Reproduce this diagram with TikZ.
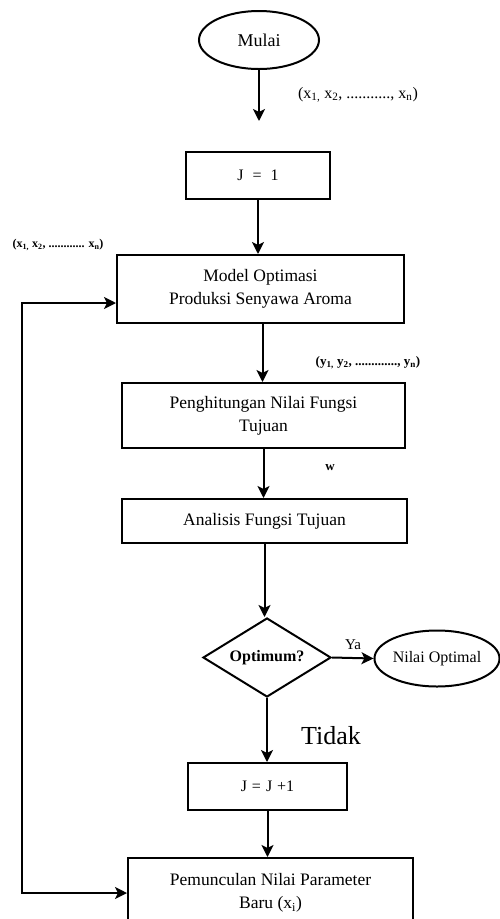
\documentclass[tikz,border=0pt]{standalone}
\usepackage{fontspec}
\setmainfont{Liberation Serif}
\usetikzlibrary{shapes.geometric,arrows.meta}
\begin{document}
\begin{tikzpicture}[x=1pt,y=-1pt,
  line width=2pt,
  arr/.style={-{Stealth[length=12pt,width=12pt,inset=3pt]}},
  dblarr/.style={{Stealth[length=12pt,width=12pt,inset=3pt]}-{Stealth[length=12pt,width=12pt,inset=3pt]}},
  procbox/.style={draw,rectangle,inner sep=0pt,align=center,font=\fontsize{17.5}{23}\selectfont},
  termin/.style={draw,ellipse,inner sep=0pt,align=center,font=\fontsize{18}{20}\selectfont},
  decis/.style={draw,diamond,aspect=1.6,inner sep=0pt,align=center,font=\bfseries\fontsize{16}{18}\selectfont},
  lbl/.style={inner sep=0pt,font=\fontsize{12}{14}\selectfont}]
\useasboundingbox (0,0) rectangle (499,919);
\fill[white] (0,0) rectangle (499,919);

\node[termin,minimum width=120pt,minimum height=58pt] (mulai) at (259,40) {Mulai};
\coordinate (tipa) at (259,121);
\node[procbox,minimum width=144pt,minimum height=47pt,font=\fontsize{16}{18}\selectfont] (j1) at (258,175.5) {J\hspace{9pt}=\hspace{9pt}1};
\node[procbox,minimum width=287pt,minimum height=68pt] (model) at (260.5,289) {Model Optimasi\\Produksi Senyawa Aroma};
\node[procbox,minimum width=283pt,minimum height=65pt] (hitung) at (263.5,415.5) {Penghitungan Nilai Fungsi\\Tujuan};
\node[procbox,minimum width=285pt,minimum height=44pt] (anal) at (264.5,521) {Analisis Fungsi Tujuan};
\node[decis,minimum width=128pt,minimum height=79pt] (dec) at (267,657.5) {Optimum?};
\node[termin,minimum width=114pt,minimum height=56pt,font=\fontsize{16}{18}\selectfont] (nilai) at (437,658.5) {Nilai Optimal};
\node[procbox,minimum width=159pt,minimum height=47pt,font=\fontsize{16}{18}\selectfont] (jj1) at (267.5,786.5) {J\hspace{5pt}=\hspace{5pt}J\hspace{5pt}+1};
\node[procbox,minimum width=285pt,minimum height=70pt] (baru) at (270.5,893) {Pemunculan Nilai Parameter\\Baru (x\textsubscript{i})};

\node[lbl,font=\fontsize{16}{19}\selectfont] (lx) at (358,95) {(x\textsubscript{1,} x\textsubscript{2}, ..........., x\textsubscript{n})};
\node[lbl,font=\bfseries\fontsize{12}{14}\selectfont] (lxl) at (58,245) {(x\textsubscript{1,} x\textsubscript{2}, ............ x\textsubscript{n})};
\node[lbl,font=\bfseries\fontsize{13}{15}\selectfont] (ly) at (368,363) {(y\textsubscript{1,} y\textsubscript{2}, ............., y\textsubscript{n})};
\node[lbl,font=\bfseries\fontsize{13}{15}\selectfont] (lw) at (330,468) {w};
\node[lbl,font=\fontsize{15}{17}\selectfont] (lya) at (353,645) {Ya};
\node[lbl,font=\fontsize{26}{30}\selectfont] (ltidak) at (331,736) {Tidak};

\coordinate (fb) at (22,303);

\draw[arr] (mulai.south) -- (tipa);
\draw[arr] (j1.south) -- (j1.south |- model.north);
\draw[arr] ([xshift=2pt]model.south) -- ([xshift=2pt]model.south |- hitung.north);
\draw[arr] (hitung.south) -- (hitung.south |- anal.north);
\draw[arr] (anal.south) -- (anal.south |- dec.north);
\draw[arr] (dec.east) -- (nilai.west);
\draw[arr] (dec.south) -- (dec.south |- jj1.north);
\draw[arr] (jj1.south) -- (jj1.south |- baru.north);
\draw[dblarr] (baru.west) -| (fb) -- (fb -| model.west);
\end{tikzpicture}
\end{document}
